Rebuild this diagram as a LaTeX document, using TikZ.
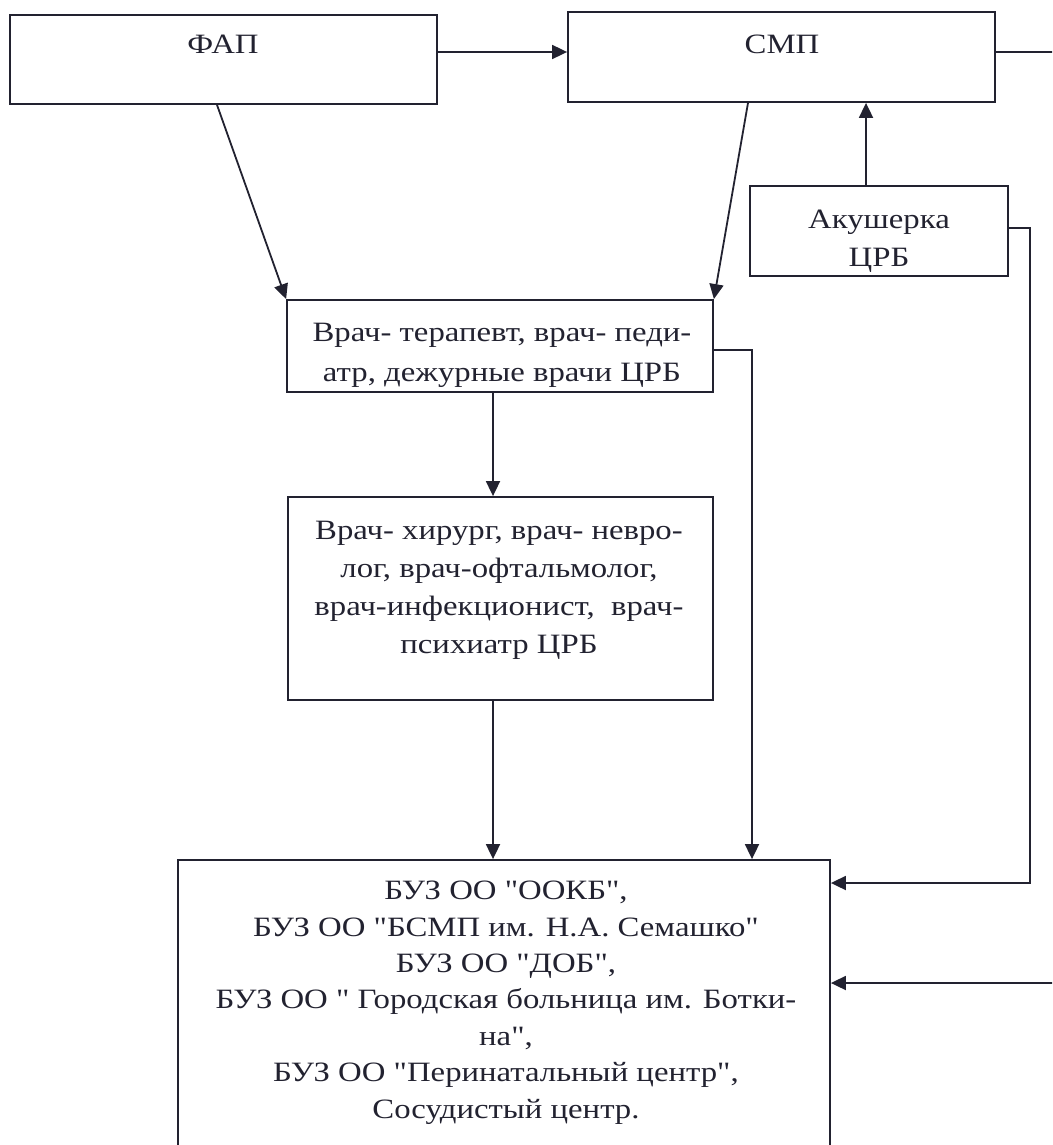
\documentclass[tikz,border=0pt]{standalone}
\usepackage{fontspec}
\newfontfamily\txtfont{Liberation Serif}[FakeStretch=1.17]
\usetikzlibrary{arrows.meta}
\definecolor{ink}{RGB}{34,34,48}
\begin{document}
\begin{tikzpicture}[x=1pt,y=-1pt,
  box/.style={draw=ink, line width=1.8pt, rectangle, inner sep=0pt},
  lbl/.style={inner sep=0pt, align=center, text=ink, anchor=base, font=\txtfont\fontsize{28}{#1}\selectfont},
  conn/.style={draw=ink, line width=1.8pt},
  arr/.style={conn, -{Triangle[length=15pt,width=14pt]}}]
\useasboundingbox (0,0) rectangle (1052,1145);
\clip (0,0) rectangle (1052,1145);
% boxes
\node[box, minimum width=427pt, minimum height=89pt] (fap) at (223.5,59.5) {};
\node[box, minimum width=427pt, minimum height=90pt] (smp) at (781.5,57) {};
\node[box, minimum width=258pt, minimum height=90pt] (aku) at (879,231) {};
\node[box, minimum width=426pt, minimum height=92pt] (ter) at (500,346) {};
\node[box, minimum width=425pt, minimum height=203pt] (hir) at (500.5,598.5) {};
\node[box, minimum width=652pt, minimum height=300pt] (buz) at (504,1010) {};
% texts (anchor = baseline of last line)
\node[lbl=38] (tfap) at (223,54) {ФАП};
\node[lbl=38] (tsmp) at (782,54) {СМП};
\node[lbl=38] (taku) at (879,266) {Акушерка\\ЦРБ};
\node[lbl=40] (tter) at (502,381) {Врач- терапевт, врач- педи-\\атр, дежурные врачи ЦРБ};
\node[lbl=38] (thir) at (499,653) {Врач- хирург, врач- невро-\\лог, врач-офтальмолог,\\врач-инфекционист,~ врач-\\психиатр ЦРБ};
\node[lbl=36.4] (tbuz) at (506,1118) {БУЗ ОО "ООКБ",\\БУЗ ОО "БСМП им. Н.А. Семашко"\\БУЗ ОО "ДОБ",\\БУЗ ОО " Городская больница им. Ботки-\\на",\\БУЗ ОО "Перинатальный центр",\\Сосудистый центр.};
% free ends
\coordinate (offA) at (1070,52);
\coordinate (offB) at (1070,983);
\coordinate (akuR) at (1030,228);
\coordinate (terR) at (752,350);
% connectors
\draw[arr] (fap.east |- 0,52) -- (smp.west |- 0,52);
\draw[conn] (smp.east |- 0,52) -- (offA);
\draw[arr] (fap.south -| 217,0) -- (ter.north west);
\draw[arr] (smp.south -| 748,0) -- (ter.north east);
\draw[arr] (aku.north -| 866,0) -- (smp.south -| 866,0);
\draw[arr] (aku.east |- akuR) -- (akuR) -- (akuR |- 0,883) -- (buz.east |- 0,883);
\draw[arr] (offB) -- (buz.east |- offB);
\draw[arr] (ter.east |- terR) -- (terR) -- (terR |- buz.north);
\draw[arr] (ter.south -| 493,0) -- (hir.north -| 493,0);
\draw[arr] (hir.south -| 493,0) -- (buz.north -| 493,0);
\end{tikzpicture}
\end{document}
